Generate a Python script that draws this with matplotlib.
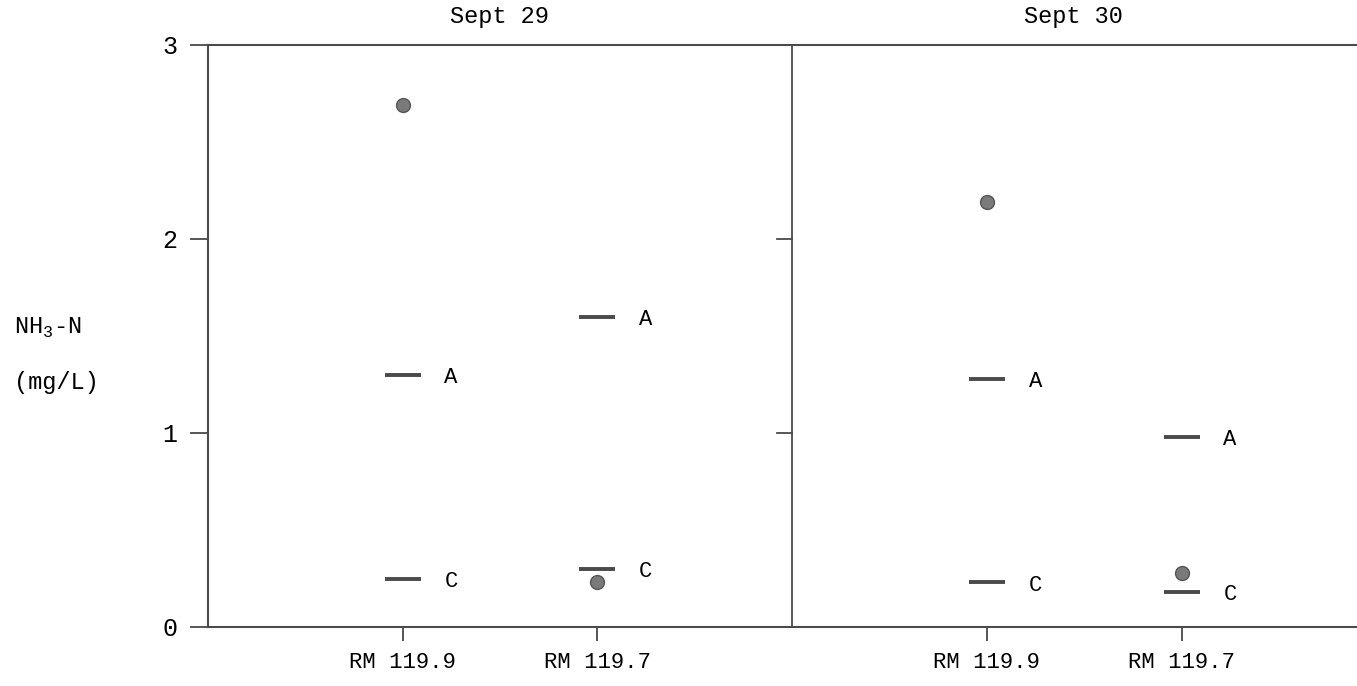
import matplotlib.pyplot as plt

# 글꼴: 타자기 느낌의 고정폭 세리프
plt.rcParams["font.family"] = ["Liberation Mono", "DejaVu Sans Mono"]
plt.rcParams["mathtext.fontset"] = "custom"
plt.rcParams["mathtext.rm"] = "Liberation Mono"

# 데이터
days = ["Sept 29", "Sept 30"]
sites = ["RM 119.9", "RM 119.7"]
x_pos = [1, 2, 4, 5]
x_labels = ["RM 119.9", "RM 119.7", "RM 119.9", "RM 119.7"]

observed = [2.69, 0.23, 2.19, 0.28]   # 점
line_a = [1.30, 1.60, 1.28, 0.98]     # A
line_c = [0.25, 0.30, 0.23, 0.18]     # C

ink = "#4a4a4a"

fig = plt.figure(figsize=(13.57, 6.86), dpi=100)
ax = fig.add_axes([208 / 1357, 1 - 627 / 686, 1 - 208 / 1357, (627 - 45) / 686])

ax.set_xlim(0, 5.9)
ax.set_ylim(0, 3)

# 가로 막대(A, C)와 점
ax.plot(x_pos, line_a, linestyle="none", marker="_", markersize=26,
        markeredgewidth=2.8, color=ink)
ax.plot(x_pos, line_c, linestyle="none", marker="_", markersize=26,
        markeredgewidth=2.8, color=ink)
ax.plot(x_pos, observed, linestyle="none", marker="o", markersize=10,
        markerfacecolor="#7a7a7a", markeredgecolor="#555555", markeredgewidth=1)

for x, a, c in zip(x_pos, line_a, line_c):
    ax.annotate("A", (x, a), xytext=(30, -2), textcoords="offset points",
                va="center", ha="left", fontsize=16)
    ax.annotate("C", (x, c), xytext=(30, -2), textcoords="offset points",
                va="center", ha="left", fontsize=16)

# 가운데 구분선 + 작은 눈금
divider = 3
ax.axvline(divider, color=ink, lw=1.3)
for yv in [1, 2]:
    ax.plot([divider - 0.08, divider], [yv, yv], color=ink, lw=1.3,
            clip_on=False)

# 축 꾸미기
for side in ["left", "bottom", "top"]:
    ax.spines[side].set_color(ink)
    ax.spines[side].set_linewidth(1.5)
ax.spines["right"].set_visible(False)

ax.set_yticks([0, 1, 2, 3])
ax.set_yticklabels(["0", "1", "2", "3"], fontsize=18)
ax.tick_params(axis="y", direction="out", length=13, width=1.3, color=ink, pad=9)
ax.set_xticks(x_pos)
ax.set_xticklabels(x_labels, fontsize=16)
ax.tick_params(axis="x", direction="out", length=10, width=1.3, color=ink, pad=8)

# 날짜 제목
fig.text((208 + 790) / 2 / 1357, 1 - 16 / 686, days[0], ha="center",
         va="center", fontsize=17)
fig.text((790 + 1357) / 2 / 1357, 1 - 16 / 686, days[1], ha="center",
         va="center", fontsize=17)

# y축 제목
fig.text(14 / 1357, 1 - 328 / 686, r"NH$_\mathrm{3}$-N", ha="left",
         va="center", fontsize=17)
fig.text(14 / 1357, 1 - 383 / 686, "(mg/L)", ha="left", va="center",
         fontsize=17)

fig.savefig("out.png", dpi=100)
